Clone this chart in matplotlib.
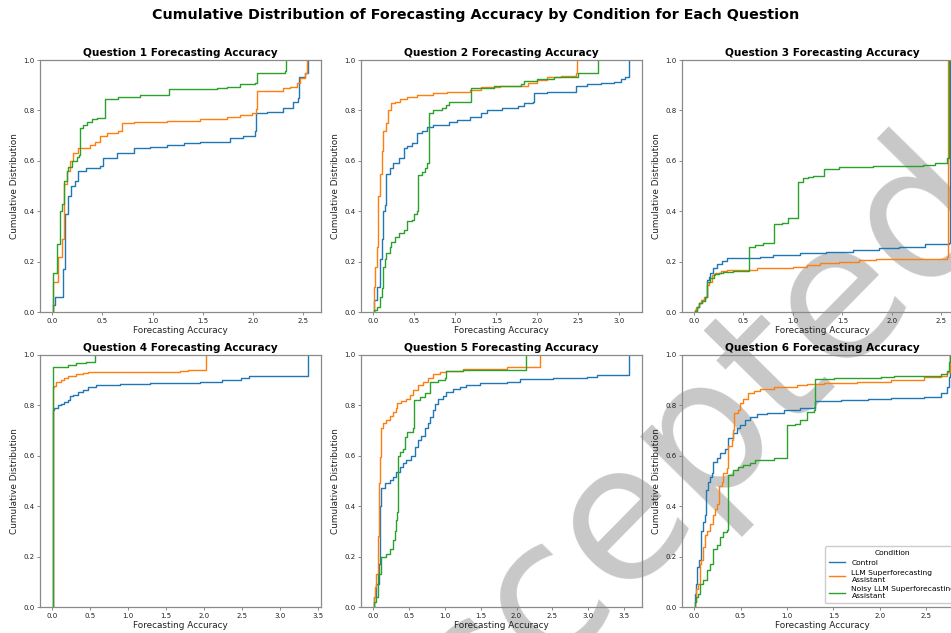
import matplotlib
matplotlib.use("Agg")
import matplotlib.pyplot as plt
import numpy as np

plt.rcParams['font.family'] = ['DejaVu Sans']

conditions = ["Control", "LLM Superforecasting\nAssistant", "Noisy LLM Superforecasting\nAssistant"]
colors = ["#1f77b4", "#ff7f0e", "#2ca02c"]

# ECDF step points per question: (x values, cumulative proportion after the step)
q1_control_x = [0.01, 0.027, 0.11, 0.126, 0.16, 0.19, 0.226, 0.26, 0.34, 0.475, 0.51, 0.64, 0.81, 0.97, 1.14, 1.31, 1.47, 1.77, 1.90, 2.02, 2.03, 2.14, 2.30, 2.40, 2.445, 2.455, 2.52, 2.55]
q1_control_y = [0.03, 0.06, 0.17, 0.39, 0.46, 0.50, 0.52, 0.56, 0.57, 0.58, 0.61, 0.63, 0.65, 0.656, 0.663, 0.67, 0.676, 0.69, 0.70, 0.72, 0.79, 0.795, 0.81, 0.835, 0.848, 0.934, 0.947, 1.0]
q1_llm_x = [0.005, 0.06, 0.093, 0.116, 0.143, 0.176, 0.209, 0.259, 0.375, 0.425, 0.475, 0.542, 0.658, 0.691, 0.81, 1.14, 1.47, 1.74, 1.87, 1.99, 2.03, 2.037, 2.30, 2.37, 2.435, 2.468, 2.52, 2.54]
q1_llm_y = [0.12, 0.22, 0.29, 0.51, 0.56, 0.60, 0.63, 0.65, 0.663, 0.676, 0.70, 0.712, 0.72, 0.75, 0.756, 0.76, 0.765, 0.773, 0.782, 0.79, 0.806, 0.878, 0.888, 0.894, 0.91, 0.927, 0.947, 1.0]
q1_noisy_x = [0.01, 0.05, 0.076, 0.10, 0.12, 0.143, 0.16, 0.193, 0.243, 0.27, 0.276, 0.309, 0.342, 0.392, 0.442, 0.528, 0.658, 0.874, 1.16, 1.64, 1.74, 1.87, 2.02, 2.037, 2.136, 2.32, 2.326]
q1_noisy_y = [0.155, 0.27, 0.40, 0.43, 0.52, 0.56, 0.577, 0.60, 0.617, 0.624, 0.73, 0.742, 0.756, 0.765, 0.769, 0.845, 0.855, 0.861, 0.885, 0.888, 0.894, 0.904, 0.91, 0.947, 0.95, 0.957, 1.0]

q2_control_x = [0.012, 0.04, 0.08, 0.10, 0.115, 0.14, 0.16, 0.20, 0.245, 0.31, 0.37, 0.41, 0.47, 0.53, 0.59, 0.65, 0.73, 0.92, 1.02, 1.18, 1.31, 1.39, 1.57, 1.76, 1.84, 1.95, 1.96, 2.12, 2.47, 2.61, 2.78, 2.94, 3.02, 3.07, 3.12]
q2_control_y = [0.05, 0.10, 0.21, 0.29, 0.40, 0.425, 0.55, 0.57, 0.59, 0.61, 0.65, 0.66, 0.67, 0.712, 0.72, 0.733, 0.742, 0.755, 0.762, 0.773, 0.789, 0.80, 0.808, 0.818, 0.828, 0.835, 0.868, 0.875, 0.898, 0.904, 0.91, 0.914, 0.925, 0.934, 1.0]
q2_llm_x = [0.005, 0.012, 0.02, 0.04, 0.06, 0.08, 0.10, 0.12, 0.155, 0.18, 0.216, 0.265, 0.33, 0.41, 0.53, 0.73, 0.90, 1.18, 1.31, 1.55, 1.88, 2.0, 2.12, 2.29, 2.47, 2.48]
q2_llm_y = [0.04, 0.10, 0.18, 0.26, 0.46, 0.55, 0.64, 0.72, 0.75, 0.80, 0.83, 0.835, 0.844, 0.852, 0.861, 0.868, 0.875, 0.881, 0.894, 0.898, 0.907, 0.92, 0.931, 0.937, 0.947, 1.0]
q2_noisy_x = [0.012, 0.04, 0.08, 0.10, 0.115, 0.14, 0.16, 0.20, 0.22, 0.265, 0.31, 0.37, 0.41, 0.47, 0.49, 0.535, 0.543, 0.59, 0.63, 0.66, 0.673, 0.73, 0.84, 0.88, 0.92, 1.19, 1.47, 1.80, 1.84, 2.0, 2.2, 2.49, 2.74]
q2_noisy_y = [0.01, 0.02, 0.06, 0.095, 0.18, 0.21, 0.234, 0.26, 0.28, 0.30, 0.313, 0.326, 0.36, 0.366, 0.39, 0.40, 0.544, 0.557, 0.57, 0.59, 0.789, 0.80, 0.808, 0.82, 0.832, 0.888, 0.896, 0.904, 0.918, 0.923, 0.931, 0.947, 1.0]

q3_control_x = [0.017, 0.033, 0.05, 0.084, 0.117, 0.134, 0.15, 0.167, 0.194, 0.234, 0.284, 0.334, 0.435, 0.67, 0.80, 1.07, 1.34, 1.61, 1.87, 2.07, 2.34, 2.575, 2.59]
q3_control_y = [0.01, 0.02, 0.036, 0.05, 0.06, 0.128, 0.14, 0.155, 0.174, 0.19, 0.205, 0.214, 0.217, 0.22, 0.227, 0.234, 0.24, 0.247, 0.254, 0.26, 0.27, 0.276, 1.0]
q3_llm_x = [0.01, 0.027, 0.05, 0.077, 0.10, 0.134, 0.15, 0.184, 0.217, 0.27, 0.334, 0.635, 0.80, 1.0, 1.14, 1.27, 1.47, 1.67, 1.84, 2.56, 2.57]
q3_llm_y = [0.01, 0.022, 0.036, 0.05, 0.06, 0.108, 0.12, 0.148, 0.157, 0.165, 0.168, 0.174, 0.177, 0.18, 0.188, 0.197, 0.20, 0.207, 0.21, 0.22, 1.0]
q3_noisy_x = [0.01, 0.033, 0.057, 0.084, 0.117, 0.134, 0.167, 0.20, 0.25, 0.30, 0.40, 0.56, 0.62, 0.70, 0.81, 0.886, 0.953, 1.05, 1.10, 1.15, 1.20, 1.32, 1.47, 1.81, 2.31, 2.44, 2.56, 2.575]
q3_noisy_y = [0.005, 0.022, 0.036, 0.046, 0.06, 0.12, 0.137, 0.152, 0.155, 0.161, 0.165, 0.26, 0.267, 0.273, 0.35, 0.355, 0.372, 0.518, 0.531, 0.537, 0.542, 0.567, 0.577, 0.58, 0.584, 0.59, 0.61, 1.0]

q4_control_x = [0.009, 0.03, 0.075, 0.12, 0.163, 0.207, 0.23, 0.27, 0.34, 0.405, 0.47, 0.58, 0.89, 1.29, 1.95, 2.17, 2.23, 2.48, 2.59, 3.37]
q4_control_y = [0.78, 0.79, 0.80, 0.806, 0.813, 0.82, 0.835, 0.84, 0.853, 0.862, 0.87, 0.88, 0.884, 0.886, 0.89, 0.893, 0.90, 0.909, 0.915, 1.0]
q4_llm_x = [0.009, 0.03, 0.053, 0.12, 0.163, 0.207, 0.317, 0.405, 0.47, 1.07, 1.68, 1.79, 2.02]
q4_llm_y = [0.871, 0.875, 0.893, 0.90, 0.906, 0.917, 0.923, 0.929, 0.931, 0.933, 0.937, 0.94, 1.0]
q4_noisy_x = [0.018, 0.14, 0.207, 0.317, 0.45, 0.57]
q4_noisy_y = [0.95, 0.952, 0.96, 0.968, 0.972, 1.0]

q5_control_x = [0.01, 0.047, 0.084, 0.10, 0.116, 0.163, 0.233, 0.28, 0.326, 0.37, 0.42, 0.465, 0.535, 0.58, 0.63, 0.674, 0.72, 0.767, 0.79, 0.83, 0.86, 0.907, 0.977, 1.02, 1.12, 1.21, 1.30, 1.49, 1.86, 2.05, 2.51, 2.98, 3.12, 3.57]
q5_control_y = [0.04, 0.093, 0.17, 0.40, 0.47, 0.49, 0.503, 0.516, 0.536, 0.556, 0.569, 0.582, 0.60, 0.635, 0.66, 0.677, 0.71, 0.73, 0.754, 0.78, 0.804, 0.823, 0.836, 0.853, 0.866, 0.873, 0.88, 0.886, 0.893, 0.902, 0.909, 0.913, 0.919, 1.0]
q5_llm_x = [0.01, 0.023, 0.047, 0.07, 0.084, 0.093, 0.107, 0.14, 0.186, 0.233, 0.28, 0.316, 0.335, 0.395, 0.465, 0.51, 0.56, 0.63, 0.70, 0.77, 0.84, 0.93, 1.02, 1.26, 1.58, 1.86, 2.33]
q5_llm_y = [0.04, 0.08, 0.13, 0.28, 0.49, 0.595, 0.71, 0.73, 0.743, 0.757, 0.774, 0.787, 0.81, 0.817, 0.824, 0.84, 0.86, 0.88, 0.893, 0.906, 0.922, 0.933, 0.937, 0.942, 0.944, 0.95, 1.0]
q5_noisy_x = [0.01, 0.037, 0.07, 0.116, 0.186, 0.233, 0.28, 0.30, 0.326, 0.34, 0.35, 0.37, 0.42, 0.44, 0.474, 0.55, 0.567, 0.65, 0.72, 0.79, 0.80, 0.907, 1.0, 1.014, 1.26, 2.13]
q5_noisy_y = [0.02, 0.04, 0.13, 0.20, 0.21, 0.23, 0.265, 0.30, 0.344, 0.377, 0.60, 0.616, 0.628, 0.675, 0.694, 0.708, 0.82, 0.833, 0.849, 0.86, 0.893, 0.90, 0.906, 0.935, 0.94, 1.0]

q6_control_x = [0.007, 0.018, 0.032, 0.054, 0.069, 0.079, 0.097, 0.116, 0.126, 0.152, 0.17, 0.188, 0.206, 0.242, 0.278, 0.332, 0.368, 0.42, 0.458, 0.495, 0.55, 0.603, 0.675, 0.78, 0.964, 1.14, 1.29, 1.307, 1.58, 1.87, 2.12, 2.48, 2.66, 2.73, 2.75, 2.76]
q6_control_y = [0.05, 0.093, 0.16, 0.185, 0.278, 0.30, 0.335, 0.364, 0.463, 0.496, 0.516, 0.53, 0.575, 0.59, 0.61, 0.628, 0.668, 0.688, 0.708, 0.72, 0.74, 0.754, 0.765, 0.77, 0.78, 0.787, 0.791, 0.817, 0.82, 0.825, 0.83, 0.833, 0.847, 0.873, 0.91, 1.0]
q6_llm_x = [0.007, 0.018, 0.043, 0.061, 0.079, 0.097, 0.116, 0.134, 0.17, 0.206, 0.224, 0.242, 0.27, 0.296, 0.314, 0.35, 0.368, 0.404, 0.42, 0.433, 0.477, 0.495, 0.53, 0.585, 0.64, 0.71, 0.856, 1.0, 1.108, 1.217, 1.397, 1.758, 2.12, 2.48, 2.66, 2.73, 2.76]
q6_llm_y = [0.02, 0.073, 0.093, 0.172, 0.185, 0.238, 0.284, 0.30, 0.33, 0.364, 0.39, 0.41, 0.48, 0.496, 0.53, 0.55, 0.64, 0.66, 0.70, 0.767, 0.78, 0.81, 0.825, 0.847, 0.857, 0.865, 0.87, 0.873, 0.878, 0.882, 0.889, 0.892, 0.898, 0.91, 0.915, 0.93, 1.0]
q6_noisy_x = [0.007, 0.018, 0.043, 0.061, 0.097, 0.134, 0.17, 0.206, 0.242, 0.278, 0.314, 0.357, 0.368, 0.42, 0.477, 0.53, 0.603, 0.657, 0.856, 1.0, 1.09, 1.144, 1.217, 1.29, 1.307, 1.505, 2.01, 2.155, 2.66, 2.726, 2.75, 2.76]
q6_noisy_y = [0.02, 0.04, 0.053, 0.093, 0.106, 0.146, 0.172, 0.23, 0.245, 0.278, 0.298, 0.307, 0.522, 0.542, 0.556, 0.562, 0.569, 0.582, 0.589, 0.72, 0.727, 0.74, 0.774, 0.78, 0.902, 0.909, 0.913, 0.917, 0.922, 0.937, 0.972, 1.0]

questions = [
    ("Question 1 Forecasting Accuracy", [(q1_control_x, q1_control_y), (q1_llm_x, q1_llm_y), (q1_noisy_x, q1_noisy_y)]),
    ("Question 2 Forecasting Accuracy", [(q2_control_x, q2_control_y), (q2_llm_x, q2_llm_y), (q2_noisy_x, q2_noisy_y)]),
    ("Question 3 Forecasting Accuracy", [(q3_control_x, q3_control_y), (q3_llm_x, q3_llm_y), (q3_noisy_x, q3_noisy_y)]),
    ("Question 4 Forecasting Accuracy", [(q4_control_x, q4_control_y), (q4_llm_x, q4_llm_y), (q4_noisy_x, q4_noisy_y)]),
    ("Question 5 Forecasting Accuracy", [(q5_control_x, q5_control_y), (q5_llm_x, q5_llm_y), (q5_noisy_x, q5_noisy_y)]),
    ("Question 6 Forecasting Accuracy", [(q6_control_x, q6_control_y), (q6_llm_x, q6_llm_y), (q6_noisy_x, q6_noisy_y)]),
]

W, H = 951, 633
fig = plt.figure(figsize=(W / 100, H / 100), dpi=100)

col_left = [40, 361, 682]
row_top = [60, 354.7]
ax_w, ax_h = 281, 252.3

axes = []
for i, (title, series) in enumerate(questions):
    r, c = divmod(i, 3)
    ax = fig.add_axes([col_left[c] / W, 1 - (row_top[r] + ax_h) / H, ax_w / W, ax_h / H])
    ax.patch.set_visible(False)
    for (xs, ys), lab, col in zip(series, conditions, colors):
        px = [xs[0]] + list(xs)
        py = [0.0] + list(ys)
        ax.step(px, py, where="post", color=col, lw=1.0, label=lab)
    ax.set_ylim(0, 1.0)
    ax.margins(x=0.05)
    ax.set_title(title, fontsize=7.6, fontweight="bold", pad=3)
    ax.set_xlabel("Forecasting Accuracy", fontsize=6.4, labelpad=1.5, color="#222222")
    ax.set_ylabel("Cumulative Distribution", fontsize=6.4, labelpad=3, color="#222222")
    ax.tick_params(length=2.5, width=0.6, pad=1.5, color="#777777", labelsize=5, labelcolor="#222222")
    for s in ax.spines.values():
        s.set_color("#8a8a8a")
        s.set_linewidth(0.9)
    axes.append(ax)

leg = axes[5].legend(title="Condition", loc="lower right", fontsize=5.4, title_fontsize=5.4,
                     handlelength=2.2, labelspacing=0.5, borderpad=0.5, framealpha=1.0)

fig.suptitle("Cumulative Distribution of Forecasting Accuracy by Condition for Each Question",
             fontsize=10.3, fontweight="bold", y=1 - 15 / H, va="center")

fig.text(658 / W, 1 - 490 / H, "Accepted", fontsize=136, color="#c8c8c8", rotation=45.5,
         ha="center", va="center", rotation_mode="anchor", zorder=-1)

fig.savefig("out.png", dpi=100)
